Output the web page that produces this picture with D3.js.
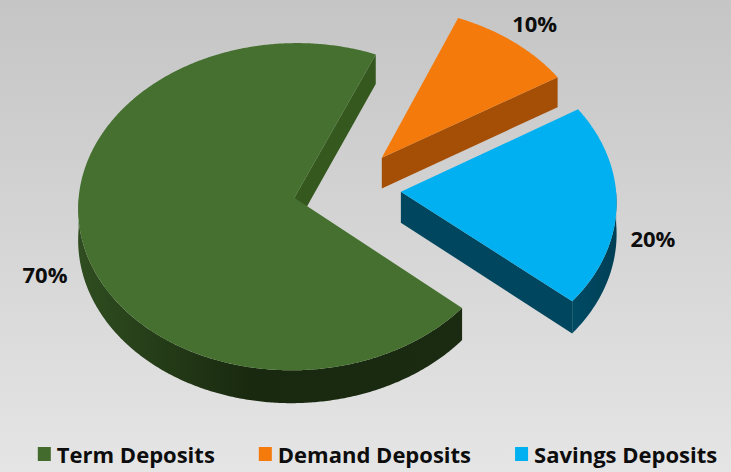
<!DOCTYPE html>
<html><head><meta charset="utf-8">
<script src="https://cdn.jsdelivr.net/npm/d3@7"></script>
<style>html,body{margin:0;padding:0;overflow:hidden;background:#d8d8d8}svg{display:block}</style>
</head><body>
<svg id="c" width="731" height="472"></svg>
<script>
// ---- data ----
const categories = ["Term Deposits", "Demand Deposits", "Savings Deposits"];
const values = [70, 10, 20];
const labelTexts = ["70%", "10%", "20%"];

// ---- styles ----
const topColors  = ["#45702f", "#f47a0b", "#00b0f0"];
const faceColors = ["#35581f", "#a54f06", "#00465e"];
const wallStops  = [
  [["0", "#2f4d20"], ["0.45", "#19290f"], ["1", "#1b2b11"]],
  [["0", "#a54f06"], ["1", "#8e4305"]],
  [["0", "#004a64"], ["1", "#003f55"]]
];
const legendColors = ["#426b2d", "#f47a0b", "#00b0f0"];

const W = 731, H = 472;
const cx = 347, cy = 188.4;     // pie centre (screen)
const R = 215;                  // radius
const tilt = 0.754;             // vertical squash
const persp = 4000;             // perspective distance
const depth = 31;               // slice thickness
const explode = 54;             // explode offset
const startDeg = 130.6;

const svg = d3.select("#c");
const defs = svg.append("defs");

// background
const bg = defs.append("linearGradient").attr("id", "bg").attr("x1", 0).attr("y1", 0).attr("x2", 0).attr("y2", 1);
bg.append("stop").attr("offset", "0").attr("stop-color", "#c5c5c5");
bg.append("stop").attr("offset", "1").attr("stop-color", "#e5e5e5");
svg.append("rect").attr("width", W).attr("height", H).attr("fill", "url(#bg)");

function proj(X, Y, z) {
  const s = persp / (persp - Y);
  return [cx + X * s, cy + (Y * tilt + z) * s];
}

const pie = d3.pie().sort(null).value(d => d)
  .startAngle(startDeg * Math.PI / 180)
  .endAngle(startDeg * Math.PI / 180 + 2 * Math.PI);
const arcs = pie(values);

const line = d3.line();
const step = Math.PI / 360;

const slices = arcs.map((a, i) => {
  const mid = (a.startAngle + a.endAngle) / 2;
  const A = [explode * Math.sin(mid), -explode * Math.cos(mid)];
  const pt = (t, r) => [A[0] + r * Math.sin(t), A[1] - r * Math.cos(t)];
  return { a, i, mid, A, pt };
});

// gradients for walls
slices.forEach(sl => {
  const g = defs.append("linearGradient").attr("id", "wall" + sl.i)
    .attr("gradientUnits", "userSpaceOnUse");
  const xs = [];
  for (let t = sl.a.startAngle; t <= sl.a.endAngle; t += step) xs.push(proj(...sl.pt(t, R), 0)[0]);
  g.attr("x1", d3.min(xs)).attr("x2", d3.max(xs)).attr("y1", 0).attr("y2", 0);
  wallStops[sl.i].forEach(s => g.append("stop").attr("offset", s[0]).attr("stop-color", s[1]));
});

function arcPts(sl, t0, t1, z) {
  const pts = [];
  const n = Math.max(2, Math.ceil((t1 - t0) / step));
  for (let k = 0; k <= n; k++) {
    const t = t0 + (t1 - t0) * k / n;
    pts.push(proj(...sl.pt(t, R), z));
  }
  return pts;
}

// draw back to front
const order = slices.slice().sort((p, q) => p.A[1] - q.A[1]);
const gPie = svg.append("g");

order.forEach(sl => {
  const s0 = sl.a.startAngle, e0 = sl.a.endAngle;
  const g = gPie.append("g");
  // outer wall: visible where cos(t) < 0
  [[Math.PI / 2, 3 * Math.PI / 2], [Math.PI / 2 + 2 * Math.PI, 3 * Math.PI / 2 + 2 * Math.PI]].forEach(r => {
    const t0 = Math.max(s0, r[0]), t1 = Math.min(e0, r[1]);
    if (t1 > t0) {
      const topP = arcPts(sl, t0, t1, 0);
      const botP = arcPts(sl, t0, t1, depth).reverse();
      g.append("path").attr("d", line(topP.concat(botP)) + "Z")
        .attr("fill", "url(#wall" + sl.i + ")");
    }
  });
  // radial faces
  const face = (t) => {
    const p = [proj(sl.A[0], sl.A[1], 0), proj(...sl.pt(t, R), 0),
               proj(...sl.pt(t, R), depth), proj(sl.A[0], sl.A[1], depth)];
    g.append("path").attr("d", line(p) + "Z").attr("fill", faceColors[sl.i]);
  };
  if (Math.sin(s0) < 0) face(s0);
  if (Math.sin(e0) > 0) face(e0);
  // top
  const top = [proj(sl.A[0], sl.A[1], 0)].concat(arcPts(sl, s0, e0, 0));
  g.append("path").attr("d", line(top) + "Z").attr("fill", topColors[sl.i]);
});

// labels
const labelR = 251;
slices.forEach(sl => {
  const p = sl.pt(sl.mid, labelR);
  const front = Math.cos(sl.mid) < 0 ? depth : 0;
  const q = proj(p[0], p[1], front);
  svg.append("text").attr("x", q[0]).attr("y", q[1])
    .attr("text-anchor", "middle").attr("dominant-baseline", "central")
    .attr("font-family", "'Open Sans', sans-serif").attr("font-weight", "bold")
    .attr("font-size", 22).attr("fill", "#0d0d0d")
    .text(labelTexts[sl.i]);
});

// legend
const lg = svg.append("g");
const items = lg.selectAll("g").data(categories).enter().append("g");
items.append("rect").attr("width", 13).attr("height", 14).attr("y", -7)
  .attr("fill", (d, i) => legendColors[i]);
const texts = items.append("text").attr("x", 19).attr("y", 0)
  .attr("dominant-baseline", "central")
  .attr("font-family", "'Open Sans', sans-serif").attr("font-weight", "bold")
  .attr("font-size", 22).attr("fill", "#0d0d0d").text(d => d);
let xoff = 0;
const gap = 44;
items.each(function (d, i) {
  const w = 19 + texts.nodes()[i].getComputedTextLength();
  d3.select(this).attr("transform", `translate(${xoff},0)`);
  xoff += w + gap;
});
const total = xoff - gap;
lg.attr("transform", `translate(${377.5 - total / 2},454)`);
</script>
</body></html>
